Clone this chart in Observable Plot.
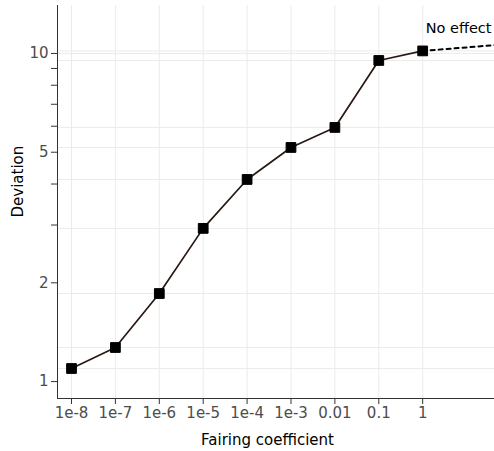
<!DOCTYPE html>
<html>
<head>
<meta charset="utf-8">
<script src="https://cdn.jsdelivr.net/npm/d3@7"></script>
<script src="https://cdn.jsdelivr.net/npm/@observablehq/plot@0.6"></script>
<style>
  html, body { margin: 0; padding: 0; background: #fff; }
  #chart svg { display: block; }
</style>
</head>
<body>
<div id="chart"></div>
<script>
// Data
const coefficients = [1e-8, 1e-7, 1e-6, 1e-5, 1e-4, 1e-3, 0.01, 0.1, 1];
const coefficientLabels = ["1e-8", "1e-7", "1e-6", "1e-5", "1e-4", "1e-3", "0.01", "0.1", "1"];
const deviations = [1.096, 1.27, 1.855, 2.93, 4.13, 5.17, 5.95, 9.52, 10.18];
const noEffectX = [1, 43.3];
const noEffectY = [10.18, 10.6];
const yMajorTicks = [1, 2, 5, 10];
const yMinorTicks = [3, 4, 6, 7, 8, 9];

const data = coefficients.map((c, i) => ({x: c, y: deviations[i]}));
const noEffect = noEffectX.map((x, i) => ({x, y: noEffectY[i]}));
const labelOf = new Map(coefficients.map((c, i) => [c, coefficientLabels[i]]));

const font = "DejaVu Sans, Verdana, sans-serif";

const chart = Plot.plot({
  width: 494,
  height: 451,
  marginLeft: 57,
  marginRight: 0,
  marginTop: 5,
  marginBottom: 53,
  style: {fontFamily: font, background: "#fff"},
  x: {type: "log", domain: [Math.pow(10, -8.319), Math.pow(10, 1.636)]},
  y: {type: "log", domain: [0.888, 14.0]},
  marks: [
    Plot.gridX(coefficients, {stroke: "#ebebeb", strokeOpacity: 1}),
    Plot.gridY(deviations, {stroke: "#ebebeb", strokeOpacity: 1}),
    Plot.gridY([10], {stroke: "#ebebeb", strokeOpacity: 1}),
    Plot.axisX(coefficients, {
      tickFormat: d => labelOf.get(d), tickSize: 6, tickPadding: 3,
      fontSize: 15, color: "#4d4d4d", stroke: "#333", label: null
    }),
    Plot.axisY(yMajorTicks, {
      tickFormat: d => String(d), tickSize: 6, tickPadding: 3,
      fontSize: 15, color: "#4d4d4d", stroke: "#333", label: null
    }),
    Plot.axisY(yMinorTicks, {
      tickFormat: () => "", tickSize: 6, stroke: "#333", label: null
    }),
    Plot.frame({anchor: "left", stroke: "#333"}),
    Plot.frame({anchor: "bottom", stroke: "#333"}),
    Plot.line(noEffect, {x: "x", y: "y", stroke: "#000", strokeWidth: 2, strokeDasharray: "4,4"}),
    Plot.line(data, {x: "x", y: "y", stroke: "#2a1812", strokeWidth: 1.7}),
    Plot.dot(data, {x: "x", y: "y", symbol: "square", r: 5.5, fill: "#000", stroke: "#000", strokeWidth: 1, strokeLinejoin: "round"}),
    Plot.text(["No effect"], {x: noEffectX[0], y: 11.9, text: d => d, textAnchor: "start", dx: 3, fontSize: 14.5, fill: "#000", lineAnchor: "middle"}),
    Plot.text(["Fairing coefficient"], {frameAnchor: "bottom", text: d => d, dx: -8.5, dy: 42, fontSize: 15, fill: "#000", lineAnchor: "middle"}),
    Plot.text(["Deviation"], {frameAnchor: "left", text: d => d, rotate: -90, dx: -39.5, dy: 15.5, fontSize: 15, fill: "#000", lineAnchor: "middle"})
  ]
});
document.getElementById("chart").appendChild(chart);
</script>
</body>
</html>
